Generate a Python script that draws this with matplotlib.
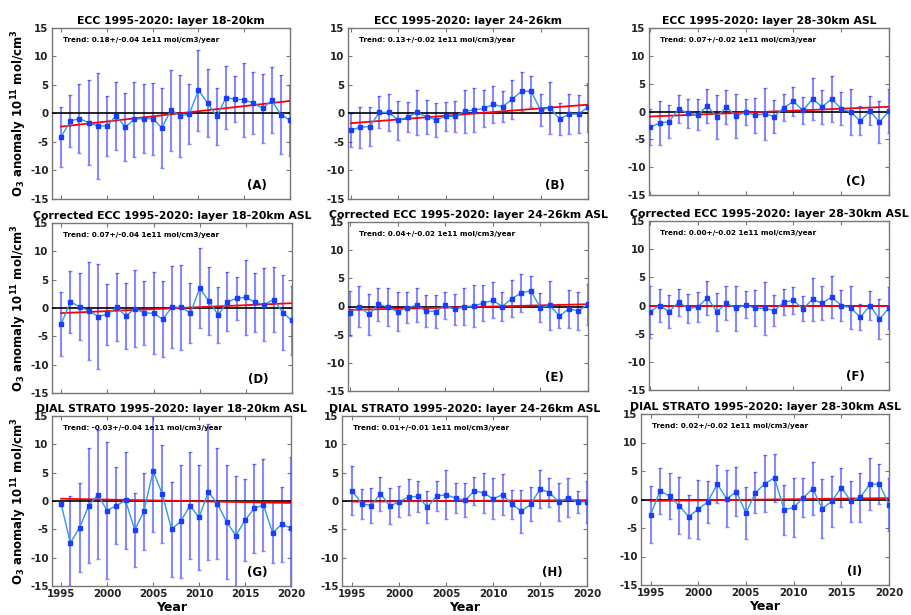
import matplotlib
matplotlib.use("Agg")
import matplotlib.pyplot as plt
import numpy as np

years = np.arange(1995, 2021)

# anomaly values (1e11 mol/cm3) and error bar half-widths
ecc_18 = [-4.1, -1.3, -0.9, -1.6, -2.2, -2.2, -0.4, -2.4, -1.0, -0.9, -0.9, -2.5, 0.6,
          -0.4, -0.1, 4.1, 1.8, -0.5, 2.8, 2.5, 2.4, 1.8, 0.9, 2.3, -0.2, -1.2]
ecc_18_err = [5.2, 4.5, 6.0, 7.5, 9.3, 5.3, 6.0, 6.0, 6.6, 6.0, 6.3, 7.0, 7.1,
              7.2, 5.3, 7.1, 6.0, 5.0, 5.6, 4.0, 6.5, 5.4, 6.0, 5.8, 6.9, 6.2]
ecc_24 = [-2.9, -2.4, -2.3, 0.2, 0.2, -1.2, -0.6, 0.2, -0.6, -1.1, -0.5, -0.5, 0.4,
          0.6, 0.9, 1.6, 1.2, 2.5, 3.9, 3.9, 0.6, 1.0, -1.0, -0.1, -0.1, 1.1]
ecc_24_err = [3.0, 3.6, 3.4, 2.8, 3.3, 3.4, 2.7, 4.0, 3.0, 3.0, 2.5, 2.7, 3.8,
              3.8, 3.3, 3.3, 2.7, 3.4, 3.4, 2.7, 2.8, 4.6, 2.8, 3.5, 3.4, 4.3]
ecc_28 = [-2.8, -2.1, -1.8, 0.4, -0.3, -0.6, 1.0, -1.0, 0.8, -0.8, -0.1, -0.7, -0.4,
          -0.9, 0.7, 1.8, 0.2, 2.3, 0.8, 2.3, 0.5, -0.1, -1.7, 0.1, -1.9, 0.1]
ecc_28_err = [3.3, 3.9, 3.0, 2.5, 2.6, 2.8, 3.1, 4.0, 3.0, 4.0, 2.4, 3.2, 4.7,
              2.9, 2.4, 2.6, 2.4, 3.8, 3.0, 4.1, 3.0, 4.1, 2.6, 2.6, 3.8, 3.9]

cor_18 = [-2.8, 1.1, 0.2, -0.5, -1.5, -1.1, 0.1, -1.4, -0.1, -0.9, -0.9, -2.0, 0.2,
          0.1, -0.9, 3.5, 1.2, -1.2, 1.1, 1.7, 1.9, 1.0, 0.6, 1.5, -0.8, -2.2]
cor_18_err = [5.7, 5.5, 5.9, 8.6, 9.2, 5.4, 6.0, 5.8, 6.8, 5.6, 7.2, 6.7, 7.2,
              7.5, 5.3, 7.0, 6.0, 4.9, 5.2, 3.8, 6.6, 5.2, 6.4, 5.8, 6.6, 6.1]
cor_24 = [-1.2, 0.0, -1.4, 0.4, -0.1, -0.9, -0.2, 0.2, -0.8, -0.9, 0.2, -0.5, 0.0,
          0.1, 0.6, 1.1, 0.0, 1.4, 2.4, 2.8, -0.2, 0.2, -1.7, -0.4, -0.8, 0.4]
cor_24_err = [4.0, 3.6, 3.6, 2.9, 3.4, 3.5, 2.8, 3.0, 2.9, 3.0, 2.4, 2.7, 3.3,
              3.7, 3.2, 3.2, 2.6, 3.3, 3.4, 2.6, 2.6, 4.4, 2.2, 3.4, 3.4, 3.6]
cor_28 = [-1.1, 0.0, -1.1, 0.6, -0.5, -0.3, 1.4, -1.1, 0.4, -0.5, 0.1, -0.5, -0.5,
          -0.9, 0.6, 0.9, -0.6, 1.1, 0.4, 1.5, 0.0, -0.4, -2.1, 0.0, -2.4, -0.5]
cor_28_err = [4.6, 3.0, 2.9, 2.4, 2.6, 2.7, 3.0, 3.4, 3.0, 4.0, 2.4, 3.2, 4.7,
              2.7, 2.3, 2.4, 2.2, 3.8, 3.0, 3.7, 2.8, 3.8, 2.3, 2.5, 3.6, 3.7]

dial_18 = [-0.6, -7.4, -4.7, -0.8, 1.1, -1.7, -0.8, 0.1, -5.1, -1.8, 5.3, 1.2, -5.0,
           -3.6, -0.8, -2.9, 1.6, -0.5, -3.7, -6.1, -3.4, -1.3, -0.7, -5.6, -4.1, -4.8]
dial_18_err = [0.3, 8.2, 7.9, 10.1, 11.4, 12.1, 6.8, 8.6, 6.6, 6.8, 10.7, 8.6, 8.4,
               10.0, 9.4, 9.2, 12.0, 9.8, 10.0, 10.5, 7.2, 7.8, 8.2, 5.4, 6.6, 12.6]
dial_24 = [1.8, -0.5, -0.8, 1.3, -0.9, -0.1, 0.7, 0.8, -1.1, 0.9, 1.1, 0.5, 0.1,
           1.8, 1.4, 0.4, 1.1, -0.6, -1.8, -0.6, 2.1, 1.5, -0.2, 0.6, -0.2, -0.1]
dial_24_err = [4.3, 2.6, 3.1, 3.0, 3.2, 2.8, 3.1, 2.7, 2.8, 2.6, 4.3, 2.7, 3.0,
               2.5, 3.6, 3.6, 3.6, 2.6, 3.8, 3.0, 3.4, 2.5, 3.4, 3.4, 2.0, 3.7]
dial_28 = [-2.7, 1.5, 0.6, -1.1, -3.0, -1.7, -0.4, 2.7, 0.1, 1.4, -2.4, 1.2, 2.8,
           3.8, -1.8, -1.4, 0.3, 1.9, -1.6, -0.3, 2.1, -0.3, 0.4, 2.7, 2.7, -0.9]
dial_28_err = [5.0, 4.0, 4.0, 5.0, 3.8, 5.2, 3.7, 3.4, 5.0, 4.3, 4.6, 3.6, 5.0,
               4.2, 4.4, 5.2, 3.4, 4.6, 5.2, 4.5, 3.4, 3.6, 4.3, 4.5, 3.5, 4.7]

titles = ["ECC 1995-2020: layer 18-20km", "ECC 1995-2020: layer 24-26km",
          "ECC 1995-2020: layer 28-30km ASL",
          "Corrected ECC 1995-2020: layer 18-20km ASL", "Corrected ECC 1995-2020: layer 24-26km ASL",
          "Corrected ECC 1995-2020: layer 28-30km ASL",
          "DIAL STRATO 1995-2020: layer 18-20km ASL", "DIAL STRATO 1995-2020: layer 24-26km ASL",
          "DIAL STRATO 1995-2020: layer 28-30km ASL"]
trend_slope = [0.18, 0.13, 0.07, 0.07, 0.04, -0.00, -0.03, 0.01, 0.02]
trend_unc = [0.04, 0.02, 0.02, 0.04, 0.02, 0.02, 0.04, 0.01, 0.02]
trend_start = [-2.3, -1.7, -0.9, -0.9, -0.6, 0.0, 0.4, -0.1, -0.25]
letters = ["(A)", "(B)", "(C)", "(D)", "(E)", "(F)", "(G)", "(H)", "(I)"]

series = [ecc_18, ecc_24, ecc_28, cor_18, cor_24, cor_28, dial_18, dial_24, dial_28]
errors = [ecc_18_err, ecc_24_err, ecc_28_err, cor_18_err, cor_24_err, cor_28_err,
          dial_18_err, dial_24_err, dial_28_err]

# axes boxes in pixels: left, top, right, bottom
boxes = [(52, 28, 290, 199), (348, 28, 588, 199), (649, 28, 889, 195),
         (52, 223, 292, 393), (348, 222, 588, 391), (649, 221, 889, 390),
         (52, 416, 291, 586), (342, 416, 587, 586), (641, 414, 889, 585)]
x_left = [1994.0, 1994.7, 1994.9, 1994.0, 1994.8, 1994.9, 1994.0, 1993.9, 1994.0]

W, H = 911, 615
fig = plt.figure(figsize=(W / 100, H / 100), dpi=100)
plt.rcParams['font.family'] = ['DejaVu Sans']
plt.rcParams['axes.unicode_minus'] = False
frame_col = '#777777'

for i in range(9):
    l, t, r, b = boxes[i]
    ax = fig.add_axes([l / W, 1 - b / H, (r - l) / W, (b - t) / H])
    y = np.array(series[i])
    e = np.array(errors[i])
    ax.errorbar(years, y, yerr=e, fmt='none', ecolor=(0.15, 0.15, 1.0, 0.55),
                elinewidth=1.5, capsize=1.3, capthick=1.0, zorder=2)
    ax.axhline(0, color='black', lw=1.2, zorder=3)
    trend = trend_start[i] + trend_slope[i] * (years - 1995)
    ax.plot(years, trend, color='red', lw=1.3, zorder=4)
    ax.plot(years, y, color='#2f9be0', lw=1.0, zorder=5)
    ax.plot(years, y, 's', color='#1a3cff', ms=2.3, mec='#1a3cff', zorder=6)

    ax.set_xlim(x_left[i], 2020)
    ax.set_ylim(-15, 15)
    ax.set_yticks([-15, -10, -5, 0, 5, 10, 15])
    ax.set_xticks([1995, 2000, 2005, 2010, 2015, 2020])
    ax.tick_params(direction='in', length=3, width=0.8, color=frame_col,
                   top=True, right=True, labelsize=7.4, pad=2.5)
    for lab in ax.get_yticklabels() + ax.get_xticklabels():
        lab.set_fontweight('bold')
        lab.set_color('#222222')
    if i < 6:
        ax.set_xticklabels([])
    else:
        ax.set_xlabel("Year", fontsize=9, fontweight='bold', labelpad=1)
    if i % 3 == 0:
        ax.set_ylabel("O$_\\mathbf{3}$ anomaly 10$^\\mathbf{11}$ mol/cm$^\\mathbf{3}$",
                      fontsize=8.5, fontweight='bold', labelpad=1)
    for sp in ax.spines.values():
        sp.set_color(frame_col)
        sp.set_linewidth(1.0)

    ax.set_title(titles[i], fontsize=7.8, fontweight='bold', pad=3)
    sign = "-" if trend_slope[i] < 0 else ""
    ax.text(0.045, 0.945, "Trend: %s%.2f+/-%.2f 1e11 mol/cm3/year" % (sign, abs(trend_slope[i]), trend_unc[i]),
            transform=ax.transAxes, fontsize=5.2, fontweight='bold', va='top', ha='left')
    ax.text(0.86, 0.08, letters[i], transform=ax.transAxes, fontsize=8.5,
            fontweight='bold', ha='center', va='center')

fig.savefig("out.png", dpi=100)
